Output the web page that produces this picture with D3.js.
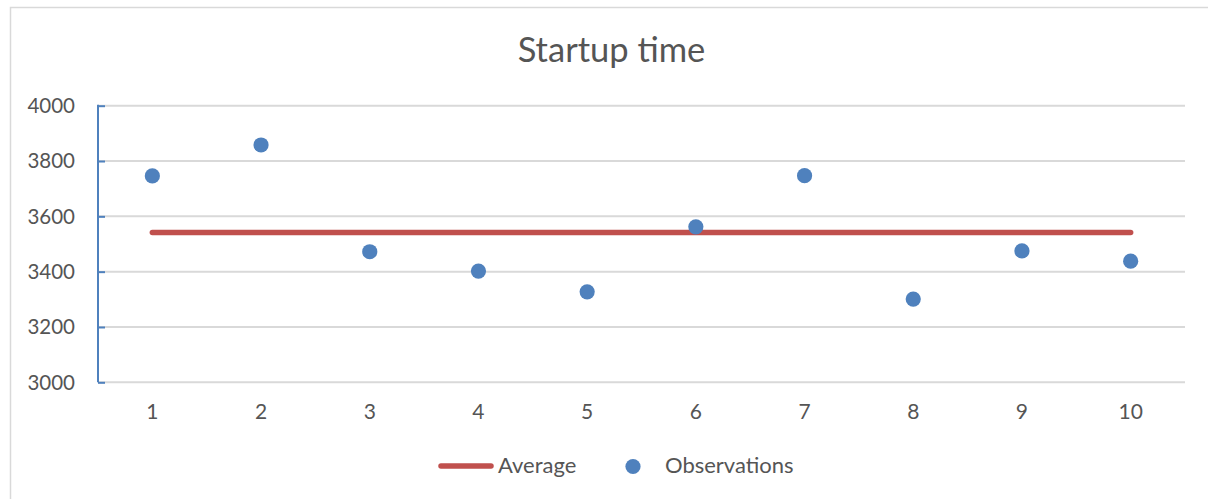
<!DOCTYPE html>
<html>
<head>
<meta charset="utf-8">
<script src="https://cdn.jsdelivr.net/npm/d3@7"></script>
<style>
  html, body { margin: 0; padding: 0; background: #fff; }
  svg { display: block; font-family: Lato, "Open Sans", sans-serif; }
</style>
</head>
<body>
<svg id="chart" width="1208" height="499"></svg>
<script>
// Startup time measurements per run
const runs = [1, 2, 3, 4, 5, 6, 7, 8, 9, 10];
const observations = [3746, 3858, 3472, 3402, 3327, 3562, 3747, 3301, 3475, 3438];
const average = [3542, 3542, 3542, 3542, 3542, 3542, 3542, 3542, 3542, 3542];
const yTicks = [3000, 3200, 3400, 3600, 3800, 4000];
const title = "Startup time";
const seriesNames = ["Average", "Observations"];

const W = 1208, H = 499;
const plot = { left: 98, right: 1185, top: 105.7, bottom: 382.3 };
const textColor = "#555555";
const gridColor = "#D9D9D9";
const blue = "#4F81BD";
const red = "#C0504D";

const svg = d3.select("#chart");

// chart area border
svg.append("rect")
  .attr("x", 10.5).attr("y", 7.5)
  .attr("width", W + 20).attr("height", H + 20)
  .attr("fill", "#fff")
  .attr("stroke", gridColor).attr("stroke-width", 1.5);

const x = d3.scaleBand().domain(runs).range([plot.left, plot.right]);
const cx = d => x(d) + x.bandwidth() / 2;
const y = d3.scaleLinear().domain([3000, 4000]).range([plot.bottom, plot.top]);

// title
svg.append("text")
  .attr("x", 611.5).attr("y", 62)
  .attr("text-anchor", "middle")
  .attr("fill", textColor)
  .style("font-size", "34.5px")
  .text(title);

// horizontal gridlines
svg.append("g")
  .selectAll("line")
  .data(yTicks)
  .join("line")
  .attr("x1", plot.left).attr("x2", plot.right)
  .attr("y1", d => y(d)).attr("y2", d => y(d))
  .attr("stroke", gridColor).attr("stroke-width", 2);

// y axis: line with inward ticks
const yAxis = svg.append("g")
  .attr("transform", `translate(${plot.left},0)`)
  .call(d3.axisRight(y).tickValues(yTicks).tickSize(7).tickFormat(""));
yAxis.select(".domain").remove();
yAxis.selectAll(".tick line").attr("stroke", blue).attr("stroke-width", 2);
yAxis.append("line")
  .attr("x1", 0).attr("x2", 0)
  .attr("y1", plot.top - 1).attr("y2", plot.bottom)
  .attr("stroke", blue).attr("stroke-width", 2);

// y tick labels
svg.append("g")
  .selectAll("text")
  .data(yTicks)
  .join("text")
  .attr("x", 75).attr("y", d => y(d))
  .attr("dy", "0.36em")
  .attr("text-anchor", "end")
  .attr("fill", textColor)
  .style("font-size", "20.5px")
  .text(d => d);

// x labels
const xAxis = svg.append("g")
  .attr("transform", `translate(0,${plot.bottom})`)
  .call(d3.axisBottom(x).tickSize(0).tickPadding(0));
xAxis.select(".domain").remove();
xAxis.selectAll(".tick text")
  .attr("y", 36.8).attr("dy", 0)
  .attr("fill", textColor)
  .style("font-size", "21px")
  .style("font-family", "Lato, 'Open Sans', sans-serif");

// average line
const line = d3.line().x((d, i) => cx(runs[i])).y(d => y(d));
svg.append("path")
  .datum(average)
  .attr("d", line)
  .attr("fill", "none")
  .attr("stroke", red)
  .attr("stroke-width", 5.5)
  .attr("stroke-linecap", "round");

// observation markers
svg.append("g")
  .selectAll("circle")
  .data(observations)
  .join("circle")
  .attr("cx", (d, i) => cx(runs[i]))
  .attr("cy", d => y(d))
  .attr("r", 7.6)
  .attr("fill", blue);

// legend
const leg = svg.append("g");
leg.append("line")
  .attr("x1", 441).attr("x2", 491)
  .attr("y1", 466).attr("y2", 466)
  .attr("stroke", red).attr("stroke-width", 5.5)
  .attr("stroke-linecap", "round");
leg.append("text")
  .attr("x", 498).attr("y", 473)
  .attr("fill", textColor)
  .style("font-size", "22px")
  .text(seriesNames[0]);
leg.append("circle")
  .attr("cx", 633).attr("cy", 466.5).attr("r", 7.6)
  .attr("fill", blue);
leg.append("text")
  .attr("x", 665).attr("y", 473)
  .attr("fill", textColor)
  .style("font-size", "22px")
  .text(seriesNames[1]);
</script>
</body>
</html>
